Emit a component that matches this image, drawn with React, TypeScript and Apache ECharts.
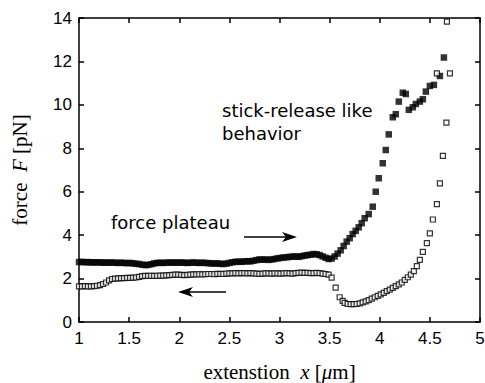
import React, { useEffect, useRef } from "react";
import * as echarts from "echarts";

// stretching curve (filled squares): extension x [μm]
const stretchX = [
  1.00, 1.03, 1.06, 1.09, 1.12, 1.15, 1.18, 1.21, 1.24, 1.27, 1.30, 1.33, 1.36, 1.39, 1.42, 1.45, 1.48, 1.51, 1.54, 1.57,
  1.60, 1.63, 1.66, 1.69, 1.72, 1.75, 1.78, 1.81, 1.84, 1.87, 1.90, 1.93, 1.96, 1.99, 2.02, 2.05, 2.08, 2.11, 2.14, 2.17,
  2.20, 2.23, 2.26, 2.29, 2.32, 2.35, 2.38, 2.41, 2.44, 2.47, 2.50, 2.53, 2.56, 2.59, 2.62, 2.65, 2.68, 2.71, 2.74, 2.77,
  2.80, 2.83, 2.86, 2.89, 2.92, 2.95, 2.98, 3.01, 3.04, 3.07, 3.10, 3.13, 3.16, 3.19, 3.22, 3.25, 3.28, 3.31, 3.34, 3.37,
  3.40, 3.43, 3.46, 3.49, 3.52, 3.55, 3.58, 3.61, 3.64, 3.67, 3.70, 3.73, 3.76, 3.79, 3.82, 3.85, 3.89, 3.93, 3.96, 3.99,
  4.03, 4.06, 4.09, 4.13, 4.16, 4.19, 4.23, 4.26, 4.29, 4.33, 4.36, 4.40, 4.43, 4.46, 4.50, 4.54, 4.60, 4.64,
];
// force F [pN]
const stretchF = [
  2.76, 2.77, 2.75, 2.76, 2.74, 2.75, 2.74, 2.75, 2.73, 2.74, 2.73, 2.74, 2.73, 2.72, 2.73, 2.72, 2.71, 2.72, 2.70, 2.68,
  2.67, 2.64, 2.62, 2.63, 2.66, 2.70, 2.72, 2.73, 2.72, 2.73, 2.74, 2.73, 2.74, 2.73, 2.74, 2.73, 2.72, 2.73, 2.74, 2.73,
  2.72, 2.73, 2.72, 2.71, 2.70, 2.69, 2.70, 2.68, 2.67, 2.69, 2.72, 2.75, 2.77, 2.78, 2.77, 2.79, 2.80, 2.79, 2.82, 2.85,
  2.88, 2.87, 2.88, 2.86, 2.88, 2.90, 2.93, 2.95, 2.97, 2.98, 3.00, 3.01, 3.02, 3.00, 3.03, 3.06, 3.08, 3.10, 3.13, 3.12,
  3.08, 3.02, 2.96, 2.90, 2.92, 3.02, 3.15, 3.30, 3.50, 3.70, 3.86, 4.05, 4.20, 4.36, 4.55, 4.78, 4.97, 5.31, 6.00, 6.62,
  7.31, 7.92, 8.64, 9.43, 9.57, 10.15, 10.56, 10.50, 9.77, 9.89, 10.04, 10.15, 10.26, 10.61, 10.87, 10.92, 11.33, 12.18,
];

// relaxing curve (open squares)
const relaxX = [
  1.00, 1.03, 1.06, 1.09, 1.12, 1.15, 1.18, 1.21, 1.24, 1.27, 1.30, 1.33, 1.36, 1.39, 1.42, 1.45, 1.48, 1.51, 1.54, 1.57,
  1.60, 1.63, 1.66, 1.69, 1.72, 1.75, 1.78, 1.81, 1.84, 1.87, 1.90, 1.93, 1.96, 1.99, 2.02, 2.05, 2.08, 2.11, 2.14, 2.17,
  2.20, 2.23, 2.26, 2.29, 2.32, 2.35, 2.38, 2.41, 2.44, 2.47, 2.50, 2.53, 2.56, 2.59, 2.62, 2.65, 2.68, 2.71, 2.74, 2.77,
  2.80, 2.83, 2.86, 2.89, 2.92, 2.95, 2.98, 3.01, 3.04, 3.07, 3.10, 3.13, 3.16, 3.19, 3.22, 3.25, 3.28, 3.31, 3.34, 3.37,
  3.40, 3.43, 3.46, 3.49, 3.52, 3.56, 3.60, 3.63, 3.65, 3.68, 3.71, 3.74, 3.77, 3.80, 3.83, 3.86, 3.89, 3.92, 3.95, 3.98,
  4.01, 4.04, 4.07, 4.10, 4.13, 4.16, 4.19, 4.22, 4.25, 4.28, 4.31, 4.34, 4.37, 4.40, 4.43, 4.47, 4.50, 4.53, 4.57, 4.60,
  4.63, 4.665, 4.70, 4.57, 4.67,
];
const relaxF = [
  1.64, 1.64, 1.65, 1.64, 1.64, 1.65, 1.67, 1.70, 1.75, 1.82, 1.92, 1.98, 2.00, 2.01, 2.02, 2.02, 2.03, 2.03, 2.04, 2.05,
  2.08, 2.11, 2.12, 2.12, 2.13, 2.12, 2.13, 2.14, 2.14, 2.15, 2.16, 2.17, 2.18, 2.18, 2.17, 2.16, 2.17, 2.18, 2.19, 2.19,
  2.20, 2.19, 2.20, 2.21, 2.21, 2.20, 2.22, 2.22, 2.21, 2.23, 2.24, 2.24, 2.25, 2.24, 2.25, 2.25, 2.24, 2.25, 2.24, 2.23,
  2.22, 2.23, 2.24, 2.24, 2.23, 2.24, 2.24, 2.23, 2.24, 2.25, 2.24, 2.23, 2.25, 2.26, 2.27, 2.26, 2.26, 2.25, 2.25, 2.26,
  2.25, 2.23, 2.21, 2.18, 2.04, 1.58, 1.14, 0.97, 0.88, 0.83, 0.82, 0.82, 0.83, 0.86, 0.90, 0.95, 1.01, 1.08, 1.14, 1.20,
  1.27, 1.34, 1.42, 1.49, 1.57, 1.65, 1.73, 1.82, 1.94, 2.06, 2.18, 2.34, 2.57, 2.86, 3.23, 3.63, 4.08, 4.72, 5.43, 6.38,
  7.65, 9.18, 11.45, 11.45, 13.83,
];

const xTicks = { min: 1, max: 5, interval: 0.5 };
const yTicks = { min: 0, max: 14, interval: 2 };

const annotations = {
  plateau: "force plateau",
  stick1: "stick-release like",
  stick2: "behavior",
};

export default function App() {
  const ref = useRef<HTMLDivElement>(null);
  useEffect(() => {
    document.body.style.margin = "0";
    if (!ref.current) return;
    const chart = echarts.init(ref.current, undefined, { renderer: "svg" });
    const stretch = stretchX.map((x, i) => [x, stretchF[i]]);
    const relax = relaxX.map((x, i) => [x, relaxF[i]]);
    const tickFont = { color: "#000", fontSize: 17, fontFamily: "Liberation Sans, Arial, sans-serif" };
    const serif = "Liberation Serif, Times New Roman, serif";
    const annFont = "DejaVu Sans, sans-serif";
    const lineStyle = { color: "#000", width: 1.5 };
    chart.setOption({
      animation: false,
      backgroundColor: "#fff",
      grid: { left: 79, right: 5, top: 18, bottom: 61, containLabel: false, outerBoundsMode: "none" },
      xAxis: [
        {
          type: "value",
          ...xTicks,
          position: "bottom",
          axisLine: { show: true, onZero: false, lineStyle },
          axisTick: { show: true, inside: true, length: 5, lineStyle },
          axisLabel: { ...tickFont, margin: 8, showMaxLabel: true, showMinLabel: true },
          splitLine: { show: false },
          name: "{a|extenstion  }{i|x}{a| [}{i|μ}{a|m]}",
          nameLocation: "middle",
          nameGap: 39,
          nameTextStyle: {
            rich: {
              a: { fontFamily: serif, fontSize: 21, color: "#000" },
              i: { fontFamily: serif, fontSize: 21, fontStyle: "italic", color: "#000" },
            },
          },
        },
        {
          type: "value",
          ...xTicks,
          position: "top",
          axisLine: { show: true, onZero: false, lineStyle },
          axisTick: { show: true, inside: true, length: 5, lineStyle },
          axisLabel: { show: false },
          splitLine: { show: false },
        },
      ],
      yAxis: [
        {
          type: "value",
          ...yTicks,
          position: "left",
          axisLine: { show: true, onZero: false, lineStyle },
          axisTick: { show: true, inside: true, length: 5, lineStyle },
          axisLabel: { ...tickFont, margin: 7, showMaxLabel: true, showMinLabel: true },
          splitLine: { show: false },
          name: "{a|force  }{i|F}{a| [pN]}",
          nameLocation: "middle",
          nameGap: 49,
          nameTextStyle: {
            rich: {
              a: { fontFamily: serif, fontSize: 21, color: "#000" },
              i: { fontFamily: serif, fontSize: 21, fontStyle: "italic", color: "#000" },
            },
          },
        },
        {
          type: "value",
          ...yTicks,
          position: "right",
          axisLine: { show: true, onZero: false, lineStyle },
          axisTick: { show: true, inside: true, length: 5, lineStyle },
          axisLabel: { show: false },
          splitLine: { show: false },
        },
      ],
      series: [
        {
          type: "scatter",
          name: "stretching",
          data: stretch,
          symbol: "rect",
          symbolSize: 6.5,
          itemStyle: { color: "#000" },
          clip: false,
        },
        {
          type: "scatter",
          name: "relaxing",
          data: relax,
          symbol: "rect",
          symbolSize: 5,
          itemStyle: { color: "#fff", borderColor: "#000", borderWidth: 1.2 },
          clip: false,
        },
      ],
      graphic: [
        {
          type: "text",
          left: 111,
          top: 213,
          style: { text: annotations.plateau, font: `18px ${annFont}`, fill: "#000" },
        },
        {
          type: "text",
          left: 222,
          top: 101,
          style: { text: annotations.stick1, font: `18px ${annFont}`, fill: "#000" },
        },
        {
          type: "text",
          left: 222,
          top: 124,
          style: { text: annotations.stick2, font: `18px ${annFont}`, fill: "#000" },
        },
        {
          type: "line",
          shape: { x1: 244, y1: 237, x2: 288, y2: 237 },
          style: { stroke: "#000", lineWidth: 1.5 },
        },
        {
          type: "polygon",
          shape: { points: [[282, 232], [297, 237], [282, 242], [286, 237]] },
          style: { fill: "#000" },
        },
        {
          type: "line",
          shape: { x1: 186, y1: 292, x2: 226, y2: 292 },
          style: { stroke: "#000", lineWidth: 1.5 },
        },
        {
          type: "polygon",
          shape: { points: [[193, 287], [178, 292], [193, 297], [189, 292]] },
          style: { fill: "#000" },
        },
      ],
    });
    return () => chart.dispose();
  }, []);
  return <div ref={ref} style={{ width: 485, height: 383 }} />;
}
